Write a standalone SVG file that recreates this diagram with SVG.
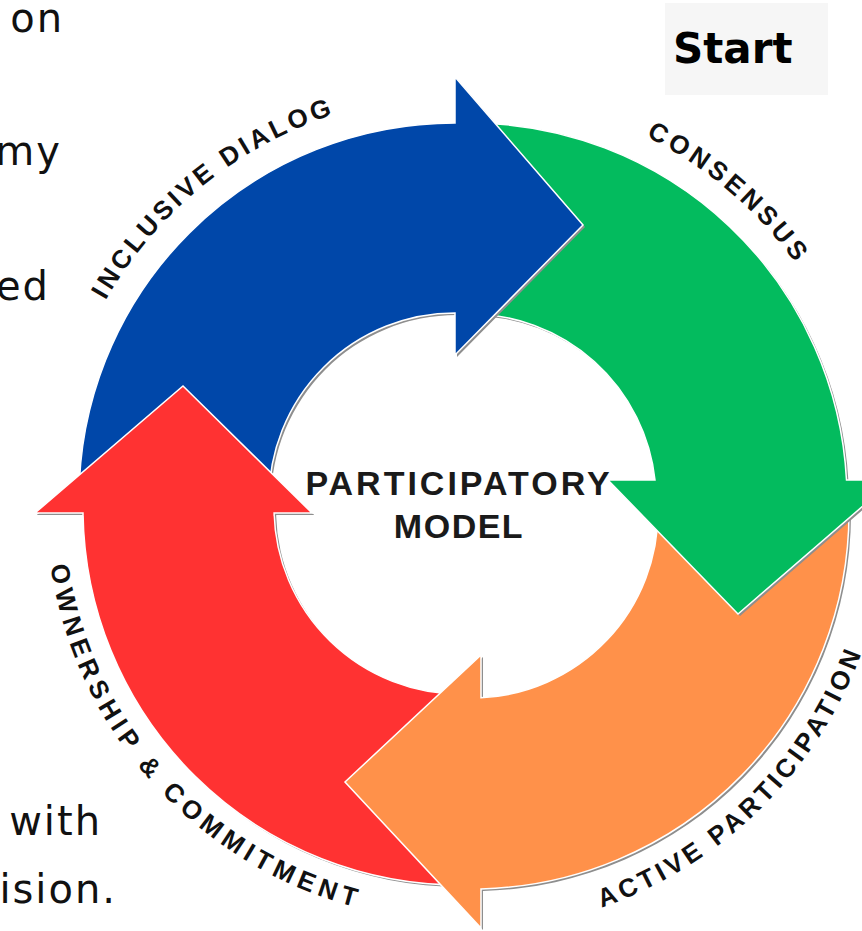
<svg xmlns="http://www.w3.org/2000/svg" width="862" height="931" viewBox="0 0 862 931">
<style>
.shadow{fill:#8e8e8e}
.arrow{stroke:#ffffff;stroke-width:1.5;stroke-linejoin:miter}
.lbl{font-family:"Liberation Sans",Arial,sans-serif;font-weight:bold;font-size:26px;fill:#111111}
.center{font-family:"Liberation Sans",Arial,sans-serif;font-weight:bold;font-size:34px;fill:#1a1a1a}
.frag{font-family:"DejaVu Sans","Open Sans",sans-serif;font-size:40px;fill:#111111;letter-spacing:2px}
</style>
<defs>
<path id="pBlue" d="M 79 499 A 376 376 0 0 1 455 123 L 455 77 L 583 225 L 455 355 L 455 313 A 186 186 0 0 0 269 499 Z"/>
<path id="pGreen" d="M 470 123 A 377 377 0 0 1 846.5 480 L 893 480 L 738 614 L 608 480 L 655 480 A 186 186 0 0 0 470 314 Z"/>
<path id="pOrange" d="M 849 512 A 377 377 0 0 1 481 888.9 L 481 928 L 345 782 L 481 655 L 481 697.8 A 186 186 0 0 0 658 512 Z"/>
<path id="pRed" d="M 460 885 A 377 377 0 0 1 83 513 L 35 513 L 183 386 L 312 513 L 274.1 513 A 186 186 0 0 0 460 694 Z"/>
<clipPath id="redHeadClip"><rect x="0" y="370" width="340" height="146"/></clipPath>
<path id="tInclusive" d="M 53.26 462.04 A 411 411 0 0 1 504.96 96.25"/>
<path id="tConsensus" d="M 429.67 94.27 A 412 412 0 0 1 872.73 472.67"/>
<path id="tActive" d="M 463.1 931 A 426 426 0 0 0 888 503.9"/>
<path id="tOwnership" d="M 46.55 483.59 A 416 416 0 0 0 440.59 920.45"/>
</defs>

<g id="background-text">
<text class="frag" x="64" y="32" text-anchor="end">on</text>
<text class="frag" x="62" y="165" text-anchor="end">my</text>
<text class="frag" x="50" y="300" text-anchor="end">ed</text>
<text class="frag" x="102" y="835" text-anchor="end">with</text>
<text class="frag" x="117" y="903" text-anchor="end">ision.</text>
</g>

<g id="start">
<rect x="665" y="3" width="163" height="92" fill="#f6f6f6"/>
<text x="673" y="63" font-family="DejaVu Sans, sans-serif" font-weight="bold" font-size="42" fill="#000000">Start</text>
</g>

<g id="connectors">
<g id="arrow-ownership">
<use href="#pRed" class="shadow" transform="translate(2,2)"/>
<use href="#pRed" class="arrow" fill="#ff3232"/>
</g>
<g id="arrow-active">
<use href="#pOrange" class="shadow" transform="translate(2,2)"/>
<use href="#pOrange" class="arrow" fill="#ff914a"/>
</g>
<g id="arrow-consensus">
<use href="#pGreen" class="shadow" transform="translate(2,2)"/>
<use href="#pGreen" class="arrow" fill="#03bb5e"/>
</g>
<g id="arrow-inclusive">
<use href="#pBlue" class="shadow" transform="translate(2,2)"/>
<use href="#pBlue" class="arrow" fill="#0047a9"/>
</g>
<g id="arrow-ownership-head" clip-path="url(#redHeadClip)">
<use href="#pRed" class="shadow" transform="translate(2,2)"/>
<use href="#pRed" class="arrow" fill="#ff3232"/>
</g>
</g>

<g id="label-inclusive-dialog">
<text class="lbl" letter-spacing="3.5" text-anchor="middle"><textPath href="#tInclusive" startOffset="50%">INCLUSIVE DIALOG</textPath></text>
</g>
<g id="label-consensus">
<text class="lbl" letter-spacing="4" text-anchor="middle"><textPath href="#tConsensus" startOffset="50%">CONSENSUS</textPath></text>
</g>
<g id="label-active-participation">
<text class="lbl" letter-spacing="4" text-anchor="middle"><textPath href="#tActive" startOffset="49.4%">ACTIVE PARTICIPATION</textPath></text>
</g>
<g id="label-ownership-commitment">
<text class="lbl" letter-spacing="5.3" text-anchor="middle"><textPath href="#tOwnership" startOffset="50%">OWNERSHIP &amp; COMMITMENT</textPath></text>
</g>

<g id="node-participatory-model">
<text class="center" x="459" y="495" text-anchor="middle" letter-spacing="3">PARTICIPATORY</text>
<text class="center" x="459" y="538" text-anchor="middle" letter-spacing="1.5">MODEL</text>
</g>
</svg>
